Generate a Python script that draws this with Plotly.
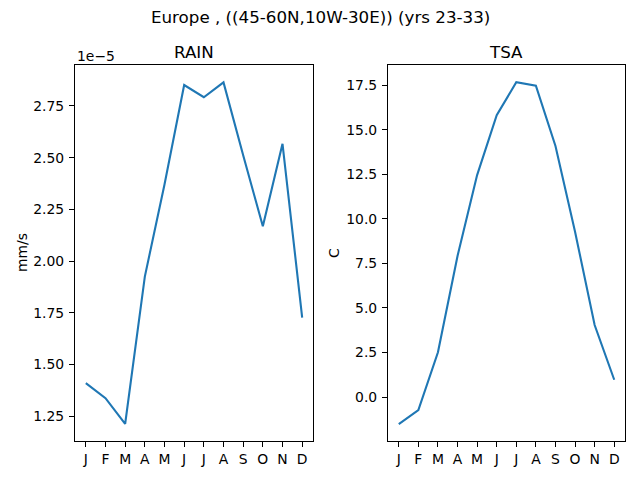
import plotly.graph_objs as go
from plotly.subplots import make_subplots

months = ["J", "F", "M", "A", "M", "J", "J", "A", "S", "O", "N", "D"]
month_idx = list(range(12))

# monthly means, Europe box, yrs 23-33
rain = [1.410e-5, 1.337e-5, 1.213e-5, 1.925e-5, 2.370e-5, 2.851e-5,
        2.792e-5, 2.864e-5, 2.512e-5, 2.168e-5, 2.567e-5, 1.727e-5]
tsa = [-1.52, -0.73, 2.51, 7.92, 12.46, 15.82,
       17.67, 17.48, 14.09, 9.28, 4.04, 0.97]

rain_scaled = [v * 1e5 for v in rain]

blue = "#1f77b4"
font = "DejaVu Sans"

fig = make_subplots(rows=1, cols=2)
fig.add_trace(go.Scatter(x=month_idx, y=rain_scaled, mode="lines",
                         line=dict(color=blue, width=2.1)), row=1, col=1)
fig.add_trace(go.Scatter(x=month_idx, y=tsa, mode="lines",
                         line=dict(color=blue, width=2.1)), row=1, col=2)

axis_style = dict(showline=True, mirror=True, linecolor="black", linewidth=1.1,
                  showgrid=False, zeroline=False, ticks="outside", ticklen=5,
                  tickwidth=1.1, tickcolor="black",
                  tickfont=dict(family=font, size=13.9, color="black"))

fig.update_xaxes(axis_style, tickmode="array", tickvals=month_idx, ticktext=months,
                 range=[-0.55, 11.55])
fig.update_xaxes(domain=[75 / 640, 313 / 640], row=1, col=1)
fig.update_xaxes(domain=[388 / 640, 625 / 640], row=1, col=2)

fig.update_yaxes(axis_style, domain=[1 - 441 / 480, 1 - 65 / 480], ticklabelstandoff=2)
fig.update_yaxes(range=[1.130, 2.948], dtick=0.25, tick0=0, tickformat=".2f", row=1, col=1)
fig.update_yaxes(range=[-2.47, 18.64], dtick=2.5, tick0=0, tickformat=".1f", row=1, col=2)

def note(text, x, y, size=13.9, angle=0, xanchor="center"):
  fig.add_annotation(text=text, x=x / 640, y=1 - y / 480, xref="paper", yref="paper",
                     showarrow=False, textangle=angle, xanchor=xanchor, yanchor="middle",
                     font=dict(family=font, size=size, color="black"))

note("Europe , ((45-60N,10W-30E)) (yrs 23-33)", 320, 17, size=16.7)
note("RAIN", 194, 52, size=16.7)
note("TSA", 506, 52, size=16.7)
note("1e\u22125", 75, 56, xanchor="left")
note("mm/s", 22, 253, angle=-90)
note("C", 334, 253, angle=-90)

fig.update_layout(width=640, height=480, showlegend=False,
                  margin=dict(l=0, r=0, t=0, b=0),
                  plot_bgcolor="white", paper_bgcolor="white",
                  font=dict(family=font, color="black"))

# drop the browser's default body margin so the figure sits at the window corner
fig.write_html("out.html", config={"displayModeBar": False},
               post_script="document.body.style.margin='0';")
